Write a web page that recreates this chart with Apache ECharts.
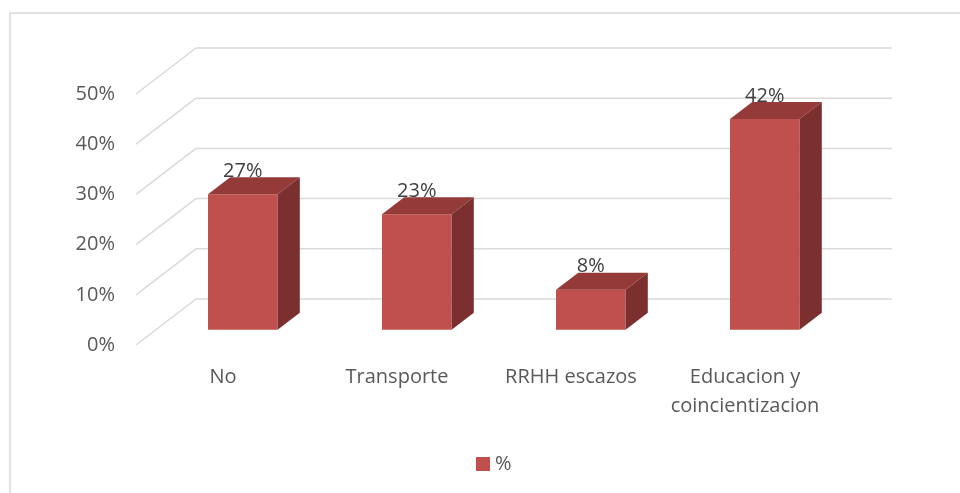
<!DOCTYPE html>
<html>
<head>
    <meta charset="utf-8" />
    <title>ECharts</title>
    <script src="https://cdn.jsdelivr.net/npm/echarts@6/dist/echarts.min.js"></script>
    <style>
        html, body { margin: 0; padding: 0; background: #fff; }
    </style>
</head>
<body>
    <div id="main" style="width: 960px;height:493px;"></div>
    <script type="text/javascript">
        var myChart = echarts.init(document.getElementById('main'));

        // data
        const categories = ['No', 'Transporte', 'RRHH escazos', 'Educacion y coincientizacion'];
        const values = [27, 23, 8, 42];
        const yTicks = [0, 10, 20, 30, 40, 50];
        const seriesName = '%';

        // 3D look: depth of the floor (front -> back wall), in px
        const DX = 60, DY = -46;
        const F0 = 0.33, F1 = 0.70; // bar front / back along the depth

        const FRONT = '#C0504D', TOP = '#943B39', SIDE = '#7B302F';

        var option = {
            animation: false,
            textStyle: { fontFamily: 'Open Sans' },
            graphic: [{
                type: 'rect',
                shape: { x: 10, y: 13, width: 970, height: 500 },
                style: { fill: 'none', stroke: '#d9d9d9', lineWidth: 1.5 },
                silent: true
            }],
            legend: {
                data: [seriesName],
                left: 471,
                top: 449,
                icon: 'rect',
                itemWidth: 14,
                itemHeight: 14,
                itemGap: 10,
                textStyle: { fontSize: 20, color: '#595959', fontFamily: 'Open Sans' }
            },
            grid: { left: 136, right: 128, top: 94, bottom: 148 },
            xAxis: {
                type: 'category',
                data: categories,
                axisLine: { show: false },
                axisTick: { show: false },
                axisLabel: {
                    interval: 0,
                    margin: 18,
                    fontSize: 20,
                    lineHeight: 29,
                    color: '#595959',
                    formatter: function (v) { return v.replace(' y ', ' y\n'); }
                }
            },
            yAxis: {
                type: 'value',
                min: 0,
                max: 50,
                interval: 10,
                axisLine: { show: false },
                axisTick: { show: false },
                splitLine: { show: false },
                axisLabel: {
                    margin: 21,
                    fontSize: 20,
                    color: '#595959',
                    formatter: '{value}%'
                }
            },
            series: [{
                // floor diagonals + back wall gridlines
                type: 'custom',
                silent: true,
                z: 1,
                encode: { x: 0, y: 1 },
                renderItem: function (params, api) {
                    const y = api.coord([0, api.value(1)])[1];
                    const cs = params.coordSys;
                    const lineStyle = { stroke: '#d9d9d9', lineWidth: 1.5 };
                    return {
                        type: 'group',
                        children: [{
                            type: 'line',
                            shape: { x1: cs.x, y1: y, x2: cs.x + DX, y2: y + DY },
                            style: lineStyle
                        }, {
                            type: 'line',
                            shape: { x1: cs.x + DX, y1: y + DY, x2: cs.x + cs.width + DX, y2: y + DY },
                            style: lineStyle
                        }]
                    };
                },
                data: yTicks.map(v => [0, v])
            }, {
                name: seriesName,
                type: 'custom',
                z: 2,
                itemStyle: { color: FRONT },
                encode: { x: 0, y: 1 },
                renderItem: function (params, api) {
                    const idx = api.value(0);
                    const base = api.coord([idx, 0]);
                    const top = api.coord([idx, api.value(1)]);
                    const band = api.size([1, 0])[0];
                    const w = band * 0.4;
                    const dx = DX * (F1 - F0), dy = DY * (F1 - F0);
                    const x0 = base[0] + DX * F0 - w / 2;
                    const x1 = x0 + w;
                    const yb = base[1] + DY * F0;
                    const yt = top[1] + DY * F0;
                    return {
                        type: 'group',
                        children: [{
                            type: 'rect',
                            shape: { x: x0, y: yt, width: w, height: yb - yt },
                            style: { fill: FRONT }
                        }, {
                            type: 'polygon',
                            shape: { points: [[x0, yt], [x1, yt], [x1 + dx, yt + dy], [x0 + dx, yt + dy]] },
                            style: { fill: TOP }
                        }, {
                            type: 'polygon',
                            shape: { points: [[x1, yt], [x1 + dx, yt + dy], [x1 + dx, yb + dy], [x1, yb]] },
                            style: { fill: SIDE }
                        }, {
                            type: 'text',
                            style: {
                                text: api.value(1) + '%',
                                x: x0 + w / 2,
                                y: yt + dy + 4,
                                align: 'center',
                                verticalAlign: 'bottom',
                                fontSize: 20,
                                fontFamily: 'Open Sans',
                                fill: '#404040'
                            }
                        }]
                    };
                },
                data: values.map((v, i) => [i, v])
            }]
        };

        myChart.setOption(option);
    </script>
</body>
</html>
